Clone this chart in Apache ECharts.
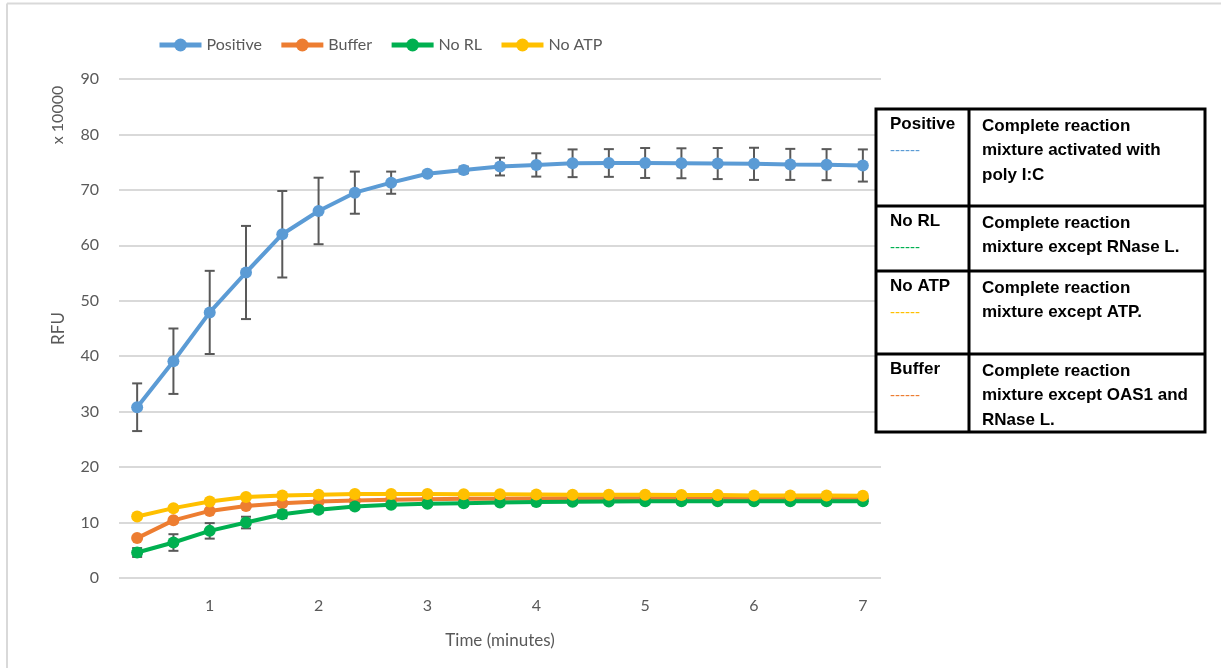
<!DOCTYPE html>
<html>
<head>
<meta charset="utf-8">
<script src="https://cdn.jsdelivr.net/npm/echarts@6/dist/echarts.min.js"></script>
<style>
  html, body { margin: 0; padding: 0; background: #fff; }
  #chart { width: 1221px; height: 668px; }
</style>
</head>
<body>
<div id="chart"></div>
<script>
// time points (minutes), one every 20 s
const times = ['0.33', '0.67', '1', '1.33', '1.67', '2', '2.33', '2.67', '3', '3.33', '3.67',
  '4', '4.33', '4.67', '5', '5.33', '5.67', '6', '6.33', '6.67', '7'];

// RFU x 10000
const positive = [30.8, 39.1, 47.9, 55.1, 62.0, 66.2, 69.5, 71.3, 72.9, 73.6, 74.2,
  74.5, 74.8, 74.85, 74.85, 74.8, 74.75, 74.7, 74.6, 74.55, 74.4];
const positiveErr = [4.3, 5.9, 7.5, 8.4, 7.8, 6.0, 3.8, 2.0, 0.4, 0.6, 1.6,
  2.1, 2.5, 2.5, 2.7, 2.7, 2.8, 2.9, 2.8, 2.8, 2.9];
const buffer = [7.2, 10.4, 12.1, 13.0, 13.5, 13.8, 14.0, 14.1, 14.2, 14.3, 14.3,
  14.35, 14.4, 14.4, 14.4, 14.4, 14.4, 14.4, 14.4, 14.4, 14.4];
const noRL = [4.6, 6.4, 8.5, 10.0, 11.5, 12.3, 12.9, 13.2, 13.4, 13.5, 13.6,
  13.7, 13.75, 13.8, 13.85, 13.85, 13.85, 13.85, 13.85, 13.85, 13.85];
const noRLErr = [0.8, 1.5, 1.4, 1.05, 0.7, 0.5, 0.4, 0.4, 0.4, 0.4, 0.4,
  0.4, 0.4, 0.4, 0.4, 0.4, 0.4, 0.4, 0.4, 0.4, 0.4];
const noATP = [11.1, 12.6, 13.8, 14.6, 14.9, 15.0, 15.15, 15.15, 15.15, 15.1, 15.1,
  15.05, 15.0, 15.0, 15.0, 14.95, 14.95, 14.9, 14.9, 14.9, 14.85];

const yTicks = { min: 0, max: 90, interval: 10 };

// legend table on the right
const tableRows = [
  { name: 'Positive', color: '#5B9BD5', text: 'Complete reaction\nmixture activated with\npoly I:C', top: 109 },
  { name: 'No RL', color: '#00B050', text: 'Complete reaction\nmixture except RNase L.', top: 206 },
  { name: 'No ATP', color: '#FFC000', text: 'Complete reaction\nmixture except ATP.', top: 271 },
  { name: 'Buffer', color: '#ED7D31', text: 'Complete reaction\nmixture except OAS1 and\nRNase L.', top: 354 }
];

const chart = echarts.init(document.getElementById('chart'));

function lineSeries(name, data, color) {
  return {
    name: name,
    type: 'line',
    data: data,
    z: 3,
    symbol: 'circle',
    symbolSize: 12,
    lineStyle: { width: 4, color: color },
    itemStyle: { color: color },
    emphasis: { disabled: true }
  };
}

// error bars drawn with a custom series under the lines
function errSeries(name, mean, err) {
  return {
    name: name,
    type: 'custom',
    z: 1,
    silent: true,
    data: mean.map((v, i) => [i, v - err[i], v + err[i]]),
    encode: { x: 0, y: [1, 2] },
    renderItem: function (params, api) {
      const hi = api.coord([api.value(0), api.value(2)]);
      const lo = api.coord([api.value(0), api.value(1)]);
      const hw = 5;
      const st = { stroke: '#595959', lineWidth: 2 };
      return {
        type: 'group',
        children: [
          { type: 'line', shape: { x1: hi[0], y1: hi[1], x2: lo[0], y2: lo[1] }, style: st },
          { type: 'line', shape: { x1: hi[0] - hw, y1: hi[1], x2: hi[0] + hw, y2: hi[1] }, style: st },
          { type: 'line', shape: { x1: lo[0] - hw, y1: lo[1], x2: lo[0] + hw, y2: lo[1] }, style: st }
        ]
      };
    }
  };
}

// table graphics
const tableGraphics = [];
const tL = 876, tR = 1205, tB = 432, tMid = 969;
tableGraphics.push({
  type: 'rect', z: 10,
  shape: { x: tL, y: 109, width: tR - tL, height: tB - 109 },
  style: { fill: '#fff', stroke: '#000', lineWidth: 3 }
});
tableGraphics.push({
  type: 'line', z: 11,
  shape: { x1: tMid, y1: 109, x2: tMid, y2: tB },
  style: { stroke: '#000', lineWidth: 3 }
});
tableRows.forEach((r, i) => {
  if (i > 0) {
    tableGraphics.push({
      type: 'line', z: 11,
      shape: { x1: tL, y1: r.top, x2: tR, y2: r.top },
      style: { stroke: '#000', lineWidth: 3 }
    });
  }
  tableGraphics.push({
    type: 'text', z: 12, left: 890, top: r.top + 7,
    style: { text: r.name, font: 'bold 17px "Liberation Sans", Arial, sans-serif', fill: '#000' }
  });
  tableGraphics.push({
    type: 'text', z: 12, left: 890, top: r.top + 34,
    style: { text: '------', font: '15px "Liberation Sans", Arial, sans-serif', fill: r.color }
  });
  tableGraphics.push({
    type: 'text', z: 12, left: 982, top: r.top + 5,
    style: {
      text: r.text, font: 'bold 17px "Liberation Sans", Arial, sans-serif',
      fill: '#000', lineHeight: 24.5
    }
  });
});

const option = {
  backgroundColor: '#fff',
  animation: false,
  textStyle: { fontFamily: 'Lato, "Noto Sans", sans-serif' },
  legend: {
    data: ['Positive', 'Buffer', 'No RL', 'No ATP'],
    left: 152,
    top: 32,
    itemWidth: 42,
    itemHeight: 16,
    itemGap: 17,
    lineStyle: { width: 5 },
    textStyle: { fontSize: 16, color: '#595959', fontFamily: 'Lato' }
  },
  grid: { left: 119, right: 340, top: 79, bottom: 90 },
  xAxis: {
    type: 'category',
    data: times,
    boundaryGap: true,
    name: 'Time (minutes)',
    nameLocation: 'middle',
    nameGap: 54,
    nameTextStyle: { fontSize: 17, color: '#595959', fontFamily: 'Lato' },
    axisLine: { show: false },
    axisTick: { show: false },
    axisLabel: {
      interval: (i, v) => v.indexOf('.') < 0,
      margin: 20,
      fontSize: 16,
      color: '#595959',
      fontFamily: 'Lato'
    }
  },
  yAxis: {
    type: 'value',
    min: yTicks.min,
    max: yTicks.max,
    interval: yTicks.interval,
    name: 'RFU',
    nameLocation: 'middle',
    nameGap: 52,
    nameTextStyle: { fontSize: 17, color: '#595959', fontFamily: 'Lato' },
    axisLine: { show: false },
    axisTick: { show: false },
    axisLabel: { margin: 20, fontSize: 16, color: '#595959', fontFamily: 'Lato' },
    splitLine: { lineStyle: { color: '#d9d9d9', width: 2 } }
  },
  graphic: [
    {
      type: 'line',
      shape: { x1: 7, y1: 3.5, x2: 1221, y2: 3.5 },
      style: { stroke: '#d9d9d9', lineWidth: 2 }
    },
    {
      type: 'line',
      shape: { x1: 7, y1: 3.5, x2: 7, y2: 668 },
      style: { stroke: '#d9d9d9', lineWidth: 2 }
    },
    {
      type: 'text',
      x: 58, y: 115, rotation: Math.PI / 2,
      style: {
        text: 'x 10000', font: '16px Lato, sans-serif', fill: '#595959',
        textAlign: 'center', textVerticalAlign: 'middle'
      }
    }
  ].concat(tableGraphics),
  series: [
    errSeries('Positive err', positive, positiveErr),
    errSeries('No RL err', noRL, noRLErr),
    lineSeries('Positive', positive, '#5B9BD5'),
    lineSeries('Buffer', buffer, '#ED7D31'),
    lineSeries('No RL', noRL, '#00B050'),
    lineSeries('No ATP', noATP, '#FFC000')
  ]
};

chart.setOption(option);
</script>
</body>
</html>
